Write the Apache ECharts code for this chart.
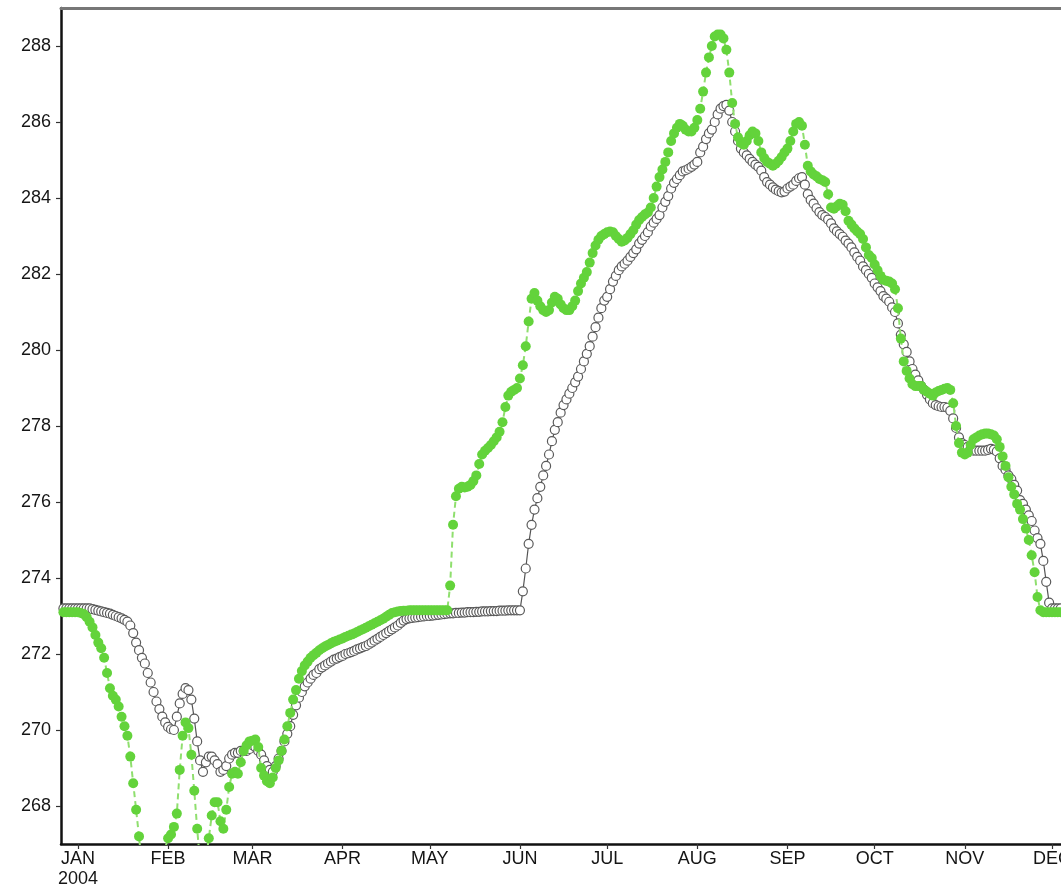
<!DOCTYPE html>
<html>
<head>
<meta charset="utf-8">
<script src="https://cdn.jsdelivr.net/npm/echarts@6/dist/echarts.min.js"></script>
<style>
  html, body { margin: 0; padding: 0; background: #fff; }
  #mychart { width: 1061px; height: 890px; }
</style>
</head>
<body>
<div id="mychart"></div>
<script>
"use strict";
// daily values, first day is 26 Dec 2003
const startDay = [2003, 11, 26];
const monthNames = ['JAN', 'FEB', 'MAR', 'APR', 'MAY', 'JUN', 'JUL', 'AUG', 'SEP', 'OCT', 'NOV', 'DEC'];
const yTicks = [268, 270, 272, 274, 276, 278, 280, 282, 284, 286, 288];

// open circles
const openTemps = [
    273.2, 273.2, 273.2, 273.2, 273.2, 273.2,
    // jan
    273.2, 273.2, 273.2, 273.2, 273.2, 273.18, 273.16, 273.14, 273.12, 273.1, 273.08, 273.06, 273.03, 273.0, 272.97, 272.94,
    272.9, 272.85, 272.75, 272.55, 272.3, 272.1, 271.9, 271.75, 271.5, 271.25, 271.0, 270.75, 270.55, 270.35, 270.2,
    // feb
    270.08, 270.02, 270.0, 270.35, 270.7, 270.95, 271.1, 271.05, 270.8, 270.3, 269.7, 269.2, 268.9, 269.15, 269.3,
    269.3, 269.2, 269.1, 268.9, 268.95, 269.05, 269.25, 269.35, 269.4, 269.4, 269.45, 269.45, 269.45, 269.5,
    // mar
    269.6, 269.55, 269.45, 269.35, 269.2, 269.05, 268.95, 268.9, 269.05, 269.25, 269.45, 269.7, 269.9, 270.1, 270.4,
    270.65, 270.85, 271.0, 271.15, 271.25, 271.35, 271.45, 271.5, 271.6, 271.65, 271.7, 271.75, 271.8, 271.85, 271.88, 271.92,
    // apr
    271.95, 272.0, 272.02, 272.05, 272.08, 272.12, 272.15, 272.18, 272.21, 272.25, 272.3, 272.35, 272.4, 272.45, 272.5,
    272.55, 272.6, 272.65, 272.7, 272.75, 272.82, 272.88, 272.92, 272.94, 272.95, 272.96, 272.97, 272.98, 272.99, 273.0,
    // may
    273.0, 273.01, 273.02, 273.03, 273.04, 273.05, 273.06, 273.07, 273.07, 273.08, 273.08, 273.09, 273.09, 273.1, 273.1,
    273.1, 273.11, 273.11, 273.12, 273.12, 273.12, 273.13, 273.13, 273.13, 273.14, 273.14, 273.14, 273.15, 273.15, 273.15, 273.15,
    // jun
    273.15, 273.65, 274.25, 274.9, 275.4, 275.8, 276.1, 276.4, 276.7, 276.95, 277.25, 277.6, 277.9, 278.1, 278.35,
    278.55, 278.7, 278.85, 279.0, 279.15, 279.3, 279.5, 279.7, 279.9, 280.1, 280.35, 280.6, 280.85, 281.1, 281.3,
    // jul
    281.4, 281.6, 281.8, 281.95, 282.1, 282.2, 282.27, 282.35, 282.45, 282.55, 282.65, 282.8, 282.9, 283.0, 283.1,
    283.25, 283.35, 283.45, 283.55, 283.75, 283.9, 284.05, 284.25, 284.4, 284.5, 284.6, 284.7, 284.73, 284.77, 284.82, 284.88,
    // aug
    284.95, 285.2, 285.35, 285.55, 285.7, 285.8, 286.0, 286.2, 286.35, 286.42, 286.45, 286.3, 286.0, 285.75, 285.5,
    285.3, 285.2, 285.12, 285.03, 284.95, 284.88, 284.82, 284.72, 284.55, 284.42, 284.35, 284.28, 284.22, 284.18, 284.15, 284.17,
    // sep
    284.25, 284.3, 284.35, 284.45, 284.52, 284.55, 284.35, 284.1, 283.95, 283.85, 283.73, 283.63, 283.55, 283.5, 283.43,
    283.33, 283.2, 283.12, 283.05, 282.98, 282.88, 282.8, 282.7, 282.57, 282.45, 282.35, 282.2, 282.1, 282.0, 281.9,
    // oct
    281.75, 281.65, 281.55, 281.42, 281.35, 281.27, 281.12, 281.0, 280.7, 280.4, 280.15, 279.95, 279.7, 279.5, 279.35,
    279.2, 279.05, 278.95, 278.82, 278.7, 278.6, 278.55, 278.52, 278.5, 278.5, 278.48, 278.4, 278.2, 277.95, 277.7, 277.55,
    // nov
    277.5, 277.45, 277.4, 277.35, 277.35, 277.35, 277.35, 277.35, 277.37, 277.4, 277.38, 277.33, 277.15, 276.95, 276.85,
    276.7, 276.6, 276.45, 276.3, 276.05, 275.95, 275.8, 275.65, 275.5, 275.25, 275.05, 274.9, 274.45, 273.9, 273.35,
    // dec
    273.2, 273.2, 273.2, 273.2
];

// green dots
const greenTemps = [
    273.1, 273.1, 273.1, 273.1, 273.1, 273.1,
    // jan
    273.1, 273.08, 273.05, 272.97, 272.85, 272.7, 272.5, 272.3, 272.15, 271.9, 271.5, 271.1, 270.9, 270.8, 270.62,
    270.35, 270.1, 269.85, 269.3, 268.6, 267.9, 267.2, 266.4, 265.8, 265.4, 265.2, 265.3, 265.6, 266.0, 266.5, 266.9,
    // feb
    267.15, 267.25, 267.45, 267.8, 268.95, 269.85, 270.2, 270.05, 269.35, 268.4, 267.4, 266.5, 266.2, 266.6, 267.15,
    267.75, 268.1, 268.1, 267.6, 267.4, 267.9, 268.5, 268.85, 268.9, 268.85, 269.15, 269.45, 269.6, 269.7,
    // mar
    269.72, 269.75, 269.55, 269.0, 268.8, 268.65, 268.6, 268.75, 269.0, 269.2, 269.45, 269.75, 270.1, 270.45, 270.8,
    271.05, 271.35, 271.55, 271.7, 271.8, 271.9, 271.97, 272.03, 272.1, 272.15, 272.2, 272.24, 272.28, 272.32, 272.35, 272.38,
    // apr
    272.41, 272.45, 272.48, 272.51, 272.54, 272.58, 272.62, 272.65, 272.69, 272.73, 272.77, 272.81, 272.85, 272.89, 272.93,
    272.98, 273.03, 273.08, 273.1, 273.12, 273.13, 273.14, 273.14, 273.15, 273.15, 273.15, 273.15, 273.15, 273.15, 273.15,
    // may
    273.15, 273.15, 273.15, 273.15, 273.15, 273.15, 273.15, 273.8, 275.4, 276.15, 276.35, 276.4, 276.38, 276.4, 276.45,
    276.55, 276.7, 277.0, 277.25, 277.35, 277.42, 277.5, 277.6, 277.7, 277.85, 278.1, 278.5, 278.8, 278.9, 278.95, 279.0,
    // jun
    279.25, 279.6, 280.1, 280.75, 281.35, 281.5, 281.3, 281.15, 281.05, 281.0, 281.05, 281.25, 281.4, 281.35, 281.2,
    281.1, 281.05, 281.05, 281.15, 281.3, 281.55, 281.75, 281.9, 282.05, 282.3, 282.55, 282.75, 282.9, 283.0, 283.05,
    // jul
    283.1, 283.12, 283.1, 283.0, 282.92, 282.85, 282.88, 282.95, 283.05, 283.15, 283.3, 283.42, 283.5, 283.57, 283.62,
    283.75, 284.0, 284.3, 284.55, 284.75, 284.95, 285.2, 285.5, 285.7, 285.85, 285.95, 285.9, 285.8, 285.75, 285.75, 285.85,
    // aug
    286.05, 286.35, 286.8, 287.3, 287.7, 288.0, 288.25, 288.3, 288.3, 288.2, 287.9, 287.3, 286.5, 285.95, 285.6,
    285.45, 285.4, 285.5, 285.65, 285.75, 285.7, 285.5, 285.2, 285.05, 284.95, 284.9, 284.85, 284.9, 284.98, 285.08, 285.2,
    // sep
    285.3, 285.5, 285.75, 285.95, 286.0, 285.9, 285.4, 284.85, 284.7, 284.62, 284.57, 284.5, 284.47, 284.42, 284.1,
    283.75, 283.72, 283.78, 283.85, 283.82, 283.65, 283.4, 283.3, 283.2, 283.12, 283.05, 282.92, 282.7, 282.5, 282.42,
    // oct
    282.25, 282.1, 281.95, 281.85, 281.82, 281.8, 281.75, 281.6, 281.1, 280.3, 279.7, 279.45, 279.25, 279.1, 279.05,
    279.05, 279.05, 278.95, 278.9, 278.85, 278.8, 278.88, 278.92, 278.95, 278.98, 279.0, 278.95, 278.6, 278.0, 277.55, 277.3,
    // nov
    277.25, 277.3, 277.5, 277.65, 277.7, 277.75, 277.78, 277.8, 277.8, 277.78, 277.75, 277.65, 277.45, 277.2, 276.95,
    276.65, 276.4, 276.2, 275.95, 275.8, 275.55, 275.3, 275.0, 274.6, 274.15, 273.5, 273.15, 273.1, 273.1, 273.1,
    // dec
    273.1, 273.1, 273.1, 273.1
];

function dayStamp(i) {
    return new Date(startDay[0], startDay[1], startDay[2] + i).getTime();
}
function toPairs(values) {
    return values.map((v, i) => [dayStamp(i), v]);
}

const monthStarts = monthNames.map((m, i) => new Date(2004, i, 1).getTime());
const xMin = new Date(2003, 11, 26, 4).getTime();
const xMax = new Date(2004, 11, 4, 2).getTime();

const labelFont = {
    color: '#151515',
    fontSize: 18,
    fontFamily: '"Liberation Sans", Arial, sans-serif'
};

const container = document.getElementById('mychart');
const myChart = echarts.init(container, null, { renderer: 'canvas' });
const option = {
    animation: false,
    backgroundColor: '#fff',
    grid: {
        left: 61,
        right: 0,
        top: 8,
        bottom: 46,
        containLabel: false,
        outerBoundsMode: 'none'
    },
    xAxis: [
        {
            // timestamps on a value axis so month ticks can be placed exactly
            type: 'value',
            min: xMin,
            max: xMax,
            axisLine: { show: true, lineStyle: { color: '#111', width: 2.5 } },
            axisTick: {
                show: true,
                length: 5,
                customValues: monthStarts,
                lineStyle: { color: '#333', width: 1.2 }
            },
            axisLabel: Object.assign({
                margin: 5,
                lineHeight: 20,
                customValues: monthStarts,
                formatter: function (value) {
                    const d = new Date(value);
                    const m = d.getMonth();
                    return m === 0 ? monthNames[m] + '\n' + d.getFullYear() : monthNames[m];
                }
            }, labelFont),
            splitLine: { show: false }
        },
        {
            type: 'value',
            position: 'top',
            min: xMin,
            max: xMax,
            axisLine: { show: true, lineStyle: { color: '#777', width: 3 } },
            axisTick: { show: false },
            axisLabel: { show: false },
            splitLine: { show: false }
        }
    ],
    yAxis: {
        type: 'value',
        min: 267,
        max: 289,
        axisLine: { show: true, lineStyle: { color: '#111', width: 2.5 } },
        axisTick: {
            show: true,
            length: 5,
            customValues: yTicks,
            lineStyle: { color: '#333', width: 1.2 }
        },
        axisLabel: Object.assign({
            margin: 10,
            customValues: yTicks
        }, labelFont),
        splitLine: { show: false }
    },
    series: [
        {
            type: 'line',
            name: 'open',
            data: toPairs(openTemps),
            symbol: 'circle',
            symbolSize: 9,
            showSymbol: true,
            z: 2,
            itemStyle: { color: '#ffffff', borderColor: '#5a5a5a', borderWidth: 1.2 },
            lineStyle: { color: '#555', width: 1.2 }
        },
        {
            type: 'line',
            name: 'green',
            data: toPairs(greenTemps),
            symbol: 'circle',
            symbolSize: 10,
            showSymbol: true,
            z: 3,
            itemStyle: { color: '#63d33b' },
            lineStyle: { color: '#8fdf6e', width: 2, type: [6, 4] }
        }
    ]
};
myChart.setOption(option);
</script>
</body>
</html>
